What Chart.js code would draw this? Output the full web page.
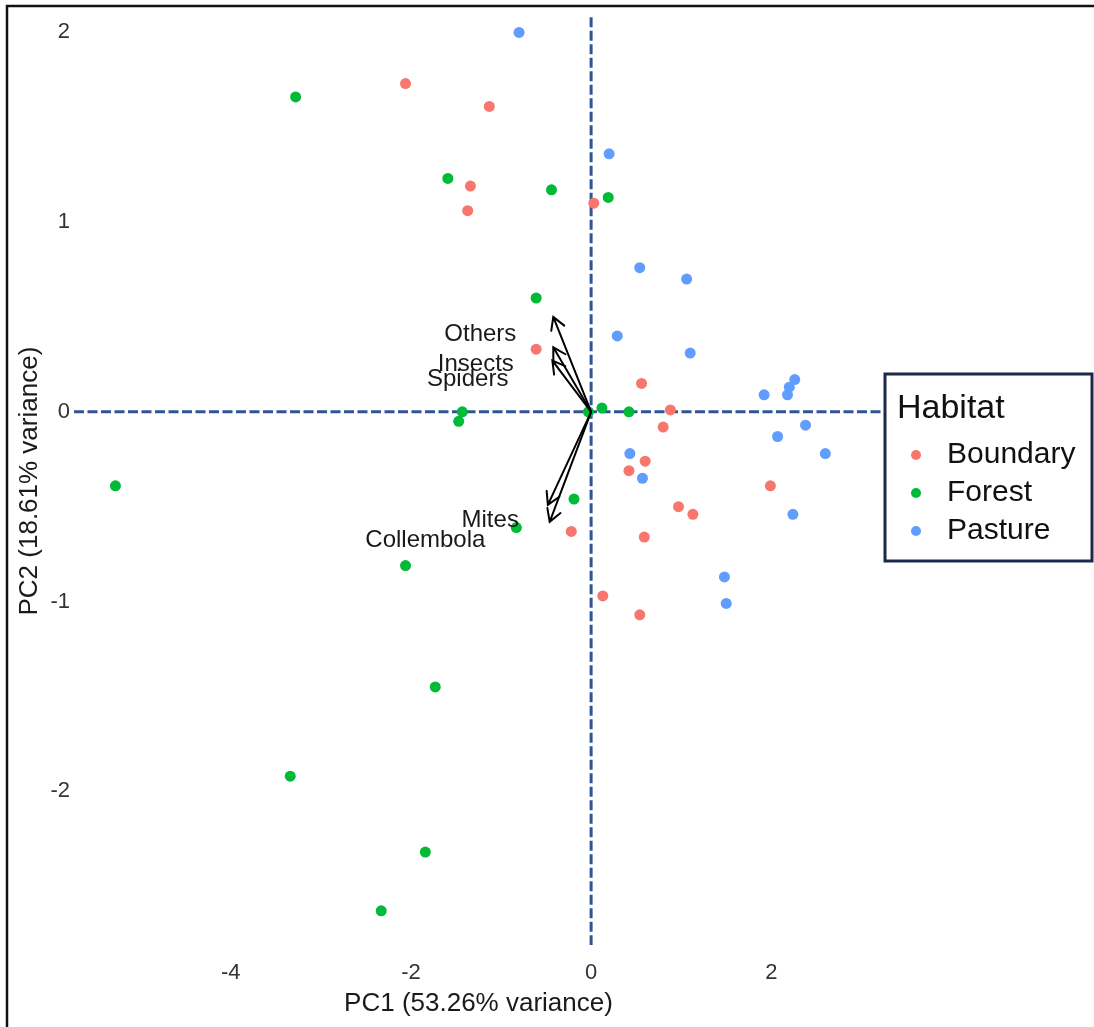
<!DOCTYPE html>
<html>
<head>
<meta charset="utf-8">
<script src="https://cdn.jsdelivr.net/npm/chart.js@4/dist/chart.umd.min.js"></script>
<style>
    body { margin: 0; background: #fff; }
    canvas { display: block; }
</style>
</head>
<body>
<canvas id="pca" width="1094" height="1027"></canvas>
<script>
// habitat groups
const habitats = ['Boundary', 'Forest', 'Pasture']
const habitatColors = ['#F8766D', '#00BA38', '#619CFF']

// PC scores
const boundaryPC1 = [-2.06, -1.13, -1.34, 0.03, -1.37, -0.61, 0.56, 0.88, 0.80, 0.60, 0.42, 1.99, 0.97, 1.13, -0.22, 0.59, 0.13, 0.54]
const boundaryPC2 = [1.73, 1.61, 1.19, 1.10, 1.06, 0.33, 0.15, 0.01, -0.08, -0.26, -0.31, -0.39, -0.50, -0.54, -0.63, -0.66, -0.97, -1.07]
const forestPC1 = [-3.28, -1.59, -0.44, 0.19, -0.61, -1.43, -1.47, -0.03, 0.12, 0.42, -5.28, -0.19, -0.83, -2.06, -1.73, -3.34, -1.84, -2.33]
const forestPC2 = [1.66, 1.23, 1.17, 1.13, 0.60, 0.00, -0.05, 0.00, 0.02, 0.00, -0.39, -0.46, -0.61, -0.81, -1.45, -1.92, -2.32, -2.63]
const pasturePC1 = [-0.80, 0.20, 0.54, 1.06, 0.29, 1.10, 2.26, 2.20, 2.18, 1.92, 2.38, 2.07, 2.60, 0.43, 0.57, 2.24, 1.48, 1.50]
const pasturePC2 = [2.00, 1.36, 0.76, 0.70, 0.40, 0.31, 0.17, 0.13, 0.09, 0.09, -0.07, -0.13, -0.22, -0.22, -0.35, -0.54, -0.87, -1.01]

// variable loadings (arrow tips) and where their names sit
const loadingNames = ['Others', 'Insects', 'Spiders', 'Mites', 'Collembola']
const loadingPC1 = [-0.42, -0.42, -0.43, -0.48, -0.46]
const loadingPC2 = [0.50, 0.34, 0.27, -0.49, -0.58]
const labelPC1 = [-1.23, -1.28, -1.37, -1.12, -1.84]
const labelPC2 = [0.41, 0.25, 0.17, -0.57, -0.68]

const xTicks = [-4, -2, 0, 2]
const yTicks = [-2, -1, 0, 1, 2]

function toPoints(xs, ys) {
    return xs.map((x, i) => ({x: x, y: ys[i]}))
}
const scores = [[boundaryPC1, boundaryPC2], [forestPC1, forestPC2], [pasturePC1, pasturePC2]]

const FONT = "'Liberation Sans', Arial, sans-serif"
const lineColor = '#2f5597'

// dashed zero lines, under the points
const zeroLines = {
    id: 'zeroLines',
    beforeDatasetsDraw: (chart) => {
        const ctx = chart.ctx
        const area = chart.chartArea
        const x0 = chart.scales.x.getPixelForValue(0)
        const y0 = chart.scales.y.getPixelForValue(0)
        ctx.save()
        ctx.strokeStyle = lineColor
        ctx.lineWidth = 3
        ctx.setLineDash([10, 3.5])
        ctx.beginPath()
        ctx.moveTo(area.left, y0)
        ctx.lineTo(area.right, y0)
        ctx.moveTo(x0, area.top)
        ctx.lineTo(x0, area.bottom)
        ctx.stroke()
        ctx.restore()
    }
}

// loading arrows + names
const arrows = {
    id: 'arrows',
    afterDatasetsDraw: (chart) => {
        const ctx = chart.ctx
        const xs = chart.scales.x
        const ys = chart.scales.y
        const ox = xs.getPixelForValue(0)
        const oy = ys.getPixelForValue(0)
        ctx.save()
        ctx.strokeStyle = '#000'
        ctx.lineWidth = 2
        ctx.lineCap = 'round'
        for (let i = 0; i < loadingNames.length; i++) {
            const tx = xs.getPixelForValue(loadingPC1[i])
            const ty = ys.getPixelForValue(loadingPC2[i])
            const ang = Math.atan2(ty - oy, tx - ox)
            const head = 14
            ctx.beginPath()
            ctx.moveTo(ox, oy)
            ctx.lineTo(tx, ty)
            ctx.moveTo(tx - head * Math.cos(ang - Math.PI / 6), ty - head * Math.sin(ang - Math.PI / 6))
            ctx.lineTo(tx, ty)
            ctx.lineTo(tx - head * Math.cos(ang + Math.PI / 6), ty - head * Math.sin(ang + Math.PI / 6))
            ctx.stroke()
        }
        ctx.fillStyle = '#1a1a1a'
        ctx.font = '24px ' + FONT
        ctx.textAlign = 'center'
        ctx.textBaseline = 'middle'
        for (let i = 0; i < loadingNames.length; i++) {
            ctx.fillText(loadingNames[i], xs.getPixelForValue(labelPC1[i]), ys.getPixelForValue(labelPC2[i]))
        }
        ctx.restore()
    }
}

// boxed legend on the right + outer frame
const habitatLegend = {
    id: 'habitatLegend',
    afterDraw: (chart) => {
        const ctx = chart.ctx
        const left = chart.chartArea.right + 2
        const top = 374
        ctx.save()
        ctx.fillStyle = '#fff'
        ctx.fillRect(left, top, 207, 187)
        ctx.strokeStyle = '#1b2a48'
        ctx.lineWidth = 3
        ctx.strokeRect(left, top, 207, 187)
        ctx.fillStyle = '#111'
        ctx.textBaseline = 'middle'
        ctx.font = '34px ' + FONT
        ctx.fillText('Habitat', left + 12, top + 35)
        ctx.font = '30px ' + FONT
        chart.data.datasets.forEach((ds, i) => {
            const cy = top + 81 + i * 38
            ctx.fillStyle = ds.backgroundColor
            ctx.beginPath()
            ctx.arc(left + 31, cy, 5, 0, Math.PI * 2)
            ctx.fill()
            ctx.fillStyle = '#111'
            ctx.fillText(ds.label, left + 62, cy)
        })
        // picture frame
        ctx.strokeStyle = '#111'
        ctx.lineWidth = 2.5
        ctx.beginPath()
        ctx.moveTo(7, 1027)
        ctx.lineTo(7, 6)
        ctx.lineTo(1094, 6)
        ctx.stroke()
        ctx.restore()
    }
}

const config = {
    type: 'scatter',
    data: {
        datasets: habitats.map((h, i) => ({
            label: h,
            data: toPoints(scores[i][0], scores[i][1]),
            backgroundColor: habitatColors[i],
            borderWidth: 0,
            pointRadius: 5.5,
            pointHoverRadius: 5.5,
        }))
    },
    plugins: [zeroLines, arrows, habitatLegend],
    options: {
        responsive: false,
        animation: false,
        devicePixelRatio: 1,
        layout: {
            padding: {left: 0, top: 15, right: 211, bottom: 0}
        },
        plugins: {
            legend: {display: false},
            tooltip: {enabled: false},
        },
        scales: {
            x: {
                type: 'linear',
                min: -5.74,
                max: 3.24,
                grid: {display: false, drawTicks: false},
                border: {display: false},
                afterBuildTicks: (scale) => { scale.ticks = xTicks.map(v => ({value: v})) },
                afterFit: (scale) => { scale.height = 82 },
                ticks: {
                    color: '#333',
                    font: {family: FONT, size: 22},
                    padding: 15,
                    maxRotation: 0,
                },
                title: {
                    display: true,
                    text: 'PC1 (53.26% variance)',
                    color: '#1a1a1a',
                    font: {family: FONT, size: 26},
                    padding: {top: 0, bottom: 8},
                },
            },
            y: {
                type: 'linear',
                min: -2.81,
                max: 2.08,
                grid: {display: false, drawTicks: false},
                border: {display: false},
                afterBuildTicks: (scale) => { scale.ticks = yTicks.map(v => ({value: v})) },
                afterFit: (scale) => { scale.width = 74 },
                ticks: {
                    color: '#333',
                    font: {family: FONT, size: 22},
                    padding: 4,
                },
                title: {
                    display: true,
                    text: 'PC2 (18.61% variance)',
                    color: '#1a1a1a',
                    font: {family: FONT, size: 26},
                    padding: {top: 14, bottom: 0},
                },
            }
        }
    }
}

new Chart(document.getElementById('pca'), config)
</script>
</body>
</html>
